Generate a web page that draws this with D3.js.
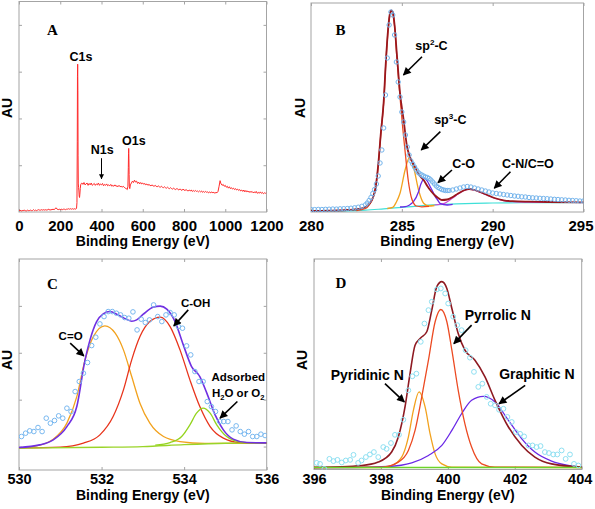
<!DOCTYPE html>
<html><head><meta charset="utf-8">
<script src="https://cdn.jsdelivr.net/npm/d3@7"></script>
<style>body{margin:0;background:#fff}svg{display:block}</style>
</head><body>
<svg id="c" width="595" height="509"></svg>
<script>
// ---------------- DATA ----------------
// Panel A: survey spectrum [binding energy eV, intensity a.u.]
const surveySpectrum = [[0,0.03],[5,0.04],[10,0.02],[15,0.03],[20,0.03],[25,0.04],[30,0.03],[35,0.02],[40,0.04],[45,0.03],[50,0.03],[55,0.04],[60,0.03],[65,0.03],[70,0.05],[75,0.03],[80,0.04],[85,0.03],[90,0.04],[95,0.05],[100,0.04],[105,0.04],[110,0.05],[115,0.04],[120,0.05],[125,0.04],[130,0.05],[135,0.04],[140,0.05],[145,0.06],[150,0.04],[155,0.05],[160,0.05],[165,0.06],[170,0.05],[175,0.07],[180,0.09],[185,0.06],[190,0.05],[195,0.06],[200,0.05],[205,0.06],[210,0.05],[215,0.06],[220,0.06],[225,0.05],[230,0.06],[235,0.06],[240,0.07],[245,0.06],[250,0.07],[255,0.06],[260,0.07],[265,0.06],[270,0.07],[275,0.06],[279,0.08],[281,0.2],[282.5,1.5],[283.5,2.9],[284.5,3.16],[285.5,2.6],[286.5,1.2],[287.5,0.6],[289,0.52],[290.5,0.45],[292,0.34],[293.5,0.31],[295,0.38],[297,0.5],[299,0.58],[302,0.61],
[305,0.62],[310,0.59],[315,0.63],[320,0.58],[325,0.60],[330,0.62],[335,0.57],[340,0.61],[345,0.58],[350,0.62],[355,0.57],[360,0.59],[365,0.61],[370,0.57],[375,0.60],[380,0.58],[385,0.62],[390,0.57],[395,0.60],[400,0.58],[405,0.61],[410,0.56],[415,0.59],[420,0.57],[425,0.60],[430,0.56],[435,0.58],[440,0.56],[445,0.59],[450,0.55],[455,0.57],[460,0.55],[465,0.58],[470,0.55],[475,0.56],[480,0.54],[485,0.57],[490,0.54],[495,0.55],[500,0.53],[505,0.55],[510,0.53],[515,0.51],[520,0.50],[525,0.48],[528,0.55],[530,0.95],[531,1.25],[532,1.36],[533,1.15],[534,0.80],[535,0.55],[537,0.50],[540,0.58],[545,0.62],[550,0.66],[555,0.63],[560,0.68],[565,0.64],[570,0.66],[575,0.61],[580,0.64],[585,0.60],[590,0.63],[595,0.60],[600,0.62],[605,0.59],[610,0.61],[615,0.58],[620,0.60],[625,0.57],[630,0.59],[635,0.57],[640,0.56],[645,0.58],[650,0.56],[655,0.55],[660,0.57],[665,0.55],[670,0.54],[675,0.56],[680,0.54],[685,0.53],[690,0.55],[695,0.53],[700,0.52],[705,0.54],[710,0.52],[715,0.51],[720,0.53],[725,0.51],[730,0.50],[735,0.52],[740,0.50],[745,0.49],[750,0.51],[755,0.49],[760,0.48],[765,0.50],[770,0.49],[775,0.47],[780,0.49],[785,0.48],[790,0.46],[795,0.49],[800,0.47],[805,0.46],[810,0.48],[815,0.46],[820,0.45],[825,0.47],[830,0.45],[835,0.47],[840,0.44],[845,0.46],[850,0.44],[855,0.46],[860,0.44],[865,0.45],[870,0.43],[875,0.45],[880,0.43],[885,0.45],[890,0.42],[895,0.44],[900,0.42],[905,0.44],[910,0.42],[915,0.43],[920,0.41],[925,0.43],[930,0.41],[935,0.43],[940,0.41],[945,0.42],[950,0.40],[955,0.42],[960,0.41],[965,0.44],[970,0.55],[975,0.67],[978,0.62],[980,0.60],[985,0.57],[990,0.59],[995,0.55],[1000,0.57],[1005,0.53],[1010,0.55],[1015,0.51],[1020,0.54],[1025,0.50],[1030,0.52],[1035,0.49],[1040,0.51],[1045,0.48],[1050,0.50],[1055,0.47],[1060,0.49],[1065,0.46],[1070,0.48],[1075,0.45],[1080,0.47],[1085,0.44],[1090,0.47],[1095,0.43],[1100,0.46],[1105,0.43],[1110,0.45],[1115,0.42],[1120,0.44],[1125,0.42],[1130,0.44],[1135,0.41],[1140,0.43],[1145,0.41],[1150,0.44],[1155,0.40],[1160,0.42],[1165,0.40],[1170,0.43],[1175,0.40],[1180,0.42],[1185,0.39],[1190,0.41],[1195,0.40],[1200,0.41]];
const surveyTicksX = [0,200,400,600,800,1000,1200];
const surveyTicksY = [1,2,3,4];
const surveyPeaks = [{label:"C1s",e:300,v:3.23},{label:"N1s",e:404,v:1.23},{label:"O1s",e:557,v:1.43}];
const surveyArrow = {e:400,v1:1.15,v2:0.71};

// Panel B: C1s high resolution [eV, counts]
const c1sData = [[280.0,125],[280.2,120],[280.4,130],[280.6,125],[280.8,135],[281.0,140],[281.2,150],[281.4,145],[281.6,160],[281.8,165],[282.0,175],[282.2,190],[282.4,210],[282.6,240],[282.8,285],[283.0,360],[283.1,450],[283.2,575],[283.3,725],[283.4,925],[283.5,1125],[283.6,1400],[283.7,1800],[283.8,2450],[283.9,3100],[284.0,4200],[284.1,5850],[284.2,7700],[284.3,9350],[284.4,10000],[284.5,9850],[284.6,8850],[284.7,7500],[284.8,6500],[284.9,5750],[285.0,5000],[285.1,4500],[285.2,3850],[285.3,3250],[285.4,2850],[285.5,2550],[285.6,2400],[285.7,2250],[285.8,2100],[285.9,1975],[286.0,1900],[286.1,1850],[286.2,1800],[286.3,1750],[286.4,1725],[286.5,1675],[286.6,1600],[286.7,1500],[286.8,1400],[286.9,1300],[287.0,1225],[287.1,1175],[287.2,1125],[287.3,1100],[287.4,1075],[287.5,1075],[287.6,1075],[287.8,1100],[288.0,1150],[288.2,1200],[288.4,1250],[288.6,1275],[288.8,1250],[289.0,1200],[289.2,1150],[289.4,1100],[289.6,1050],[289.8,1000],[290.0,950],[290.2,925],[290.4,900],[290.6,875],[290.8,850],[291.0,825],[291.2,800],[291.4,785],[291.6,760],[291.8,750],[292.0,725],[292.2,710],[292.4,700],[292.6,685],[292.8,675],[293.0,665],[293.2,650],[293.4,635],[293.6,625],[293.8,610],[294.0,600],[294.2,585],[294.4,575],[294.6,565],[294.8,550],[295.0,550]];
const c1sEnvelope = [[280.0,50],[281.0,65],[282.0,100],[282.6,150],[283.0,250],[283.2,400],[283.4,700],[283.55,1200],[283.7,2350],[283.85,4000],[284.0,5500],[284.12,7500],[284.25,9200],[284.35,9950],[284.42,10075],[284.5,10000],[284.6,9350],[284.73,7850],[284.9,5950],[285.1,4600],[285.28,3300],[285.45,2750],[285.6,2450],[285.75,2200],[286.0,1800],[286.2,1600],[286.4,1300],[286.6,1050],[286.8,850],[287.0,700],[287.2,600],[287.5,625],[287.8,750],[288.1,925],[288.4,1075],[288.7,1150],[289.0,1100],[289.3,1000],[289.7,850],[290.1,700],[290.6,585],[291.1,540],[292,515],[293,500],[295,485]];
const c1sSp2 = [[282.5,75],[283.0,175],[283.2,350],[283.4,675],[283.55,1150],[283.7,2300],[283.85,3950],[284.0,5450],[284.12,7450],[284.25,9150],[284.35,9900],[284.42,10050],[284.5,9950],[284.6,9300],[284.73,7700],[284.9,5750],[285.05,4200],[285.2,2850],[285.35,1600],[285.55,650],[285.8,300],[286.1,260],[286.5,280]];
const c1sSp3 = [[284.2,175],[284.5,230],[284.7,500],[284.9,935],[285.18,2100],[285.42,2735],[285.64,2265],[285.92,1100],[286.2,435],[286.47,300],[286.8,325]];
const c1sCO = [[284.9,250],[285.18,265],[285.4,340],[285.64,515],[285.92,1015],[286.05,1400],[286.25,1685],[286.4,1550],[286.56,1265],[286.7,1025],[286.84,765],[286.95,625],[287.1,435],[287.5,350],[287.8,380]];
const c1sCN = [[286.8,350],[287.3,420],[287.8,700],[288.1,900],[288.4,1060],[288.7,1140],[289.0,1090],[289.3,990],[289.7,840],[290.1,690],[290.6,570],[291.1,515],[292,490],[293,478]];
const c1sBackground = [[280,50],[282,60],[283,90],[284,160],[285,235],[286,310],[287,365],[288,405],[289,435],[290,450],[292,465],[295,475]];
const c1sTicksX = [280,285,290,295];
const c1sLabels = [
  {parts:[["sp",0],["2",1],["-C",0]], e:286.63, v:8100, a:[286.11,7765,285.09,6850]},
  {parts:[["sp",0],["3",1],["-C",0]], e:287.67, v:4400, a:[287.12,4015,286.07,3100]},
  {parts:[["C-O",0]], e:288.4, v:2185, a:[287.76,2100,286.99,1465]},
  {parts:[["C-N/C=O",0]], e:291.94, v:2185, a:[290.98,2015,290.09,1185]}
];

// Panel C: O1s [eV, a.u.]
const o1sData = [[530.06,0.214],[530.16,0.285],[530.26,0.335],[530.36,0.320],[530.46,0.406],[530.56,0.320],[530.66,0.605],[530.76,0.498],[530.86,0.555],[530.96,0.655],[531.06,0.605],[531.16,0.818],[531.26,0.747],[531.36,1.173],[531.46,1.387],[531.56,1.564],[531.66,1.792],[531.76,2.154],[531.86,2.332],[531.96,2.616],[532.06,2.772],[532.16,2.879],[532.26,2.879],[532.36,2.844],[532.46,2.808],[532.56,2.751],[532.66,2.737],[532.76,2.872],[532.86,2.488],[532.96,2.716],[533.06,2.645],[533.16,2.701],[533.26,3.021],[533.36,2.772],[533.46,2.666],[533.56,2.808],[533.66,2.858],[533.76,2.808],[533.86,2.559],[533.96,2.524],[534.06,2.147],[534.16,1.955],[534.26,1.600],[534.36,1.387],[534.46,1.387],[534.56,0.960],[534.66,0.853],[534.76,0.747],[534.86,0.534],[534.96,0.534],[535.06,0.534],[535.16,0.356],[535.26,0.441],[535.36,0.320],[535.46,0.264],[535.56,0.320],[535.66,0.214],[535.76,0.214],[535.86,0.264],[535.96,0.235]];
const o1sEnvelope = [[530.0,-0.02],[530.5,0.036],[530.83,0.143],[531.16,0.426],[531.4,0.853],[531.6,1.849],[531.72,2.275],[531.88,2.665],[532.04,2.829],[532.2,2.879],[532.4,2.808],[532.6,2.716],[532.73,2.674],[532.85,2.701],[533.01,2.823],[533.25,2.972],[533.42,2.994],[533.58,2.930],[533.78,2.665],[533.98,2.168],[534.18,1.706],[534.38,1.493],[534.55,1.139],[534.75,0.676],[534.95,0.356],[535.19,0.158],[535.52,0.085],[536.0,0.079]];
const o1sCdO = [[530.0,-0.03],[530.35,0.0],[530.83,0.158],[531.16,0.499],[531.4,1.066],[531.6,1.849],[531.8,2.345],[532.08,2.574],[532.33,2.418],[532.53,2.062],[532.73,1.493],[532.93,0.925],[533.17,0.499],[533.5,0.213],[533.9,0.107],[534.5,0.068],[536,0.068]];
const o1sCOH = [[530.0,-0.03],[531.0,-0.013],[531.56,0.072],[531.96,0.249],[532.28,0.640],[532.53,1.209],[532.73,1.849],[532.93,2.345],[533.17,2.665],[533.42,2.759],[533.66,2.559],[533.9,2.062],[534.14,1.422],[534.38,0.853],[534.63,0.426],[534.95,0.179],[535.35,0.085],[536,0.072]];
const o1sWater = [[533.3,0.03],[533.66,0.085],[533.94,0.213],[534.14,0.463],[534.3,0.712],[534.46,0.819],[534.63,0.712],[534.79,0.463],[535.03,0.213],[535.35,0.100],[535.7,0.079],[536,0.078]];
const o1sBackground = [[530,-0.035],[532,-0.015],[533,0.0],[534,0.04],[535,0.07],[536,0.08]];
const o1sTicksX = [530,532,534,536];
const o1sTicksY = [0,1,2,3];
const o1sLabels = [
  {lines:[[["C=O",0]]], e:531.25, v:2.275, a:[531.24,2.205,531.57,1.934]},
  {lines:[[["C-OH",0]]], e:534.28, v:2.985, a:[534.1,2.915,533.75,2.574]},
  {lines:[[["Adsorbed",0]],[["H",0],["2",-1],["O or O",0],["2",-1]]], e:535.31, v:1.407, a:[535.29,0.96,534.87,0.605]}
];

// Panel D: N1s [eV, a.u.]
const n1sData = [[396.08,0.23],[396.18,0.18],[396.31,-0.07],[396.46,0.43],[396.58,0.32],[396.70,0.38],[396.83,0.25],[396.95,0.35],[397.08,0.38],[397.18,0.63],[397.32,0.23],[397.42,0.35],[397.55,0.52],[397.67,0.65],[397.79,0.77],[397.92,0.52],[398.07,1.02],[398.17,0.93],[398.30,1.22],[398.42,1.63],[398.54,1.63],[398.67,2.38],[398.82,3.85],[398.94,4.55],[399.06,4.68],[399.19,6.27],[399.30,7.18],[399.42,7.85],[399.52,8.27],[399.67,8.88],[399.79,8.93],[399.92,8.68],[400.01,8.18],[400.16,7.52],[400.28,7.10],[400.41,6.85],[400.53,5.85],[400.66,5.48],[400.78,4.77],[400.91,4.02],[401.03,4.18],[401.16,3.52],[401.28,3.18],[401.41,3.10],[401.53,2.88],[401.66,2.93],[401.78,2.52],[401.91,2.27],[402.03,1.77],[402.16,1.68],[402.28,1.55],[402.41,1.10],[402.53,1.10],[402.65,1.02],[402.77,1.07],[402.90,0.77],[403.02,0.72],[403.15,0.65],[403.27,0.65],[403.40,0.85],[403.52,0.43],[403.65,0.65],[403.77,0.18],[403.90,0.10]];
const n1sEnvelope = [[396.0,0.0],[397.43,0.1],[397.92,0.27],[398.32,0.77],[398.52,1.52],[398.72,3.02],[398.87,4.68],[399.02,6.1],[399.2,6.48],[399.37,6.77],[399.52,7.85],[399.67,9.02],[399.82,9.27],[399.97,8.93],[400.12,7.93],[400.31,6.68],[400.51,5.85],[400.81,5.35],[401.11,4.52],[401.41,3.35],[401.81,2.02],[402.21,1.1],[402.6,0.52],[403.1,0.18],[404.0,0.02]];
const n1sPyrrolic = [[396,0],[398.02,0.02],[398.52,0.27],[398.82,0.85],[399.02,1.85],[399.22,3.52],[399.42,5.35],[399.62,7.27],[399.79,7.88],[399.97,7.27],[400.12,5.85],[400.31,3.85],[400.51,2.18],[400.71,1.02],[401.01,0.18],[401.4,0.02],[404,0]];
const n1sPyridinic = [[396,0],[398.0,0.0],[398.32,0.1],[398.62,0.52],[398.82,1.52],[398.97,2.85],[399.14,3.77],[399.32,3.02],[399.47,1.68],[399.62,0.68],[399.82,0.18],[400.12,0.02],[404,0]];
const n1sGraphitic = [[396,0],[397,0.0],[398.22,0.05],[398.92,0.23],[399.42,0.6],[399.82,1.1],[400.12,1.85],[400.41,2.68],[400.71,3.35],[401.06,3.55],[401.41,3.27],[401.81,2.35],[402.21,1.43],[402.6,0.77],[403.1,0.32],[403.6,0.1],[404,0.02]];
const n1sBackground = [[396,0],[404,0]];
const n1sTicksX = [396,398,400,402,404];
const n1sLabels = [
  {lines:[[["Pyrrolic N",0]]], e:401.49, v:7.35, a:[400.71,7.1,400.18,6.18]},
  {lines:[[["Pyridinic N",0]]], e:397.59, v:4.35, a:[398.12,4.18,398.7,3.27]},
  {lines:[[["Graphitic N",0]]], e:402.66, v:4.4, a:[402.31,4.1,401.53,3.18]}
];

// ---------------- DRAW ----------------
const svg = d3.select('#c');
const defs = svg.append('defs');
function marker(id, w, h){
  defs.append('marker').attr('id',id).attr('viewBox','0 0 10 10').attr('refX',9).attr('refY',5)
    .attr('markerWidth',w).attr('markerHeight',h).attr('markerUnits','userSpaceOnUse').attr('orient','auto')
    .append('path').attr('d','M0,0L10,5L0,10Z').attr('fill','#000');
}
marker('ah',9,8); marker('ahs',5,5);

const SANS = "'Liberation Sans', Arial, sans-serif";
const SERIF = "'Liberation Serif', 'Times New Roman', serif";
const FRAME = '#a4a4a4';

function makePanel(p){
  const x = d3.scaleLinear().domain(p.xd).range([p.l, p.r]);
  const y = d3.scaleLinear().domain(p.yd).range([p.b, p.t]);
  const g = svg.append('g');
  const cid = 'clip' + p.name;
  defs.append('clipPath').attr('id',cid).append('rect').attr('x',p.l).attr('y',p.t).attr('width',p.r-p.l).attr('height',p.b-p.t);
  const ax = g.append('g').attr('transform',`translate(0,${p.b})`)
    .call(d3.axisBottom(x).tickValues(p.xt).tickSizeInner(-3).tickSizeOuter(0).tickFormat(d3.format('d')));
  ax.selectAll('text').attr('y', p.tickY - p.b).attr('dy',0)
    .attr('dx',(d,i)=> i===p.xt.length-1 ? (p.lastDx||0) : 0)
    .style('font-family',SANS).style('font-weight','bold').style('font-size',p.tickFs+'px').attr('fill','#000');
  g.append('g').attr('transform',`translate(0,${p.t})`).call(d3.axisTop(x).tickValues(p.xt).tickSizeInner(-3).tickSizeOuter(0).tickFormat(''));
  if (p.yt) {
    g.append('g').attr('transform',`translate(${p.l},0)`).call(d3.axisLeft(y).tickValues(p.yt).tickSizeInner(-3).tickSizeOuter(0).tickFormat(''));
    g.append('g').attr('transform',`translate(${p.r},0)`).call(d3.axisRight(y).tickValues(p.yt).tickSizeInner(-3).tickSizeOuter(0).tickFormat(''));
  }
  g.selectAll('.domain').remove();
  g.selectAll('.tick line').attr('stroke',FRAME);
  g.append('rect').attr('x',p.l).attr('y',p.t).attr('width',p.r-p.l).attr('height',p.b-p.t).attr('fill','none').attr('stroke',FRAME).attr('stroke-width',1);
  g.append('text').attr('x',(p.l+p.r)/2).attr('y',p.titleY).attr('text-anchor','middle')
    .style('font-family',SANS).style('font-weight','bold').style('font-size','14px').text('Binding Energy (eV)');
  g.append('text').attr('transform',`translate(${p.auX},${p.auY}) rotate(-90)`).attr('text-anchor','middle')
    .style('font-family',SANS).style('font-weight','bold').style('font-size','14px').text('AU');
  g.append('text').attr('x',p.letX).attr('y',p.letY).attr('text-anchor','middle')
    .style('font-family',SERIF).style('font-weight','bold').style('font-size','15px').text(p.letter);
  const plot = g.append('g').attr('clip-path',`url(#${cid})`);
  return {x,y,g,plot};
}

function drawLine(P, data, color, w, curve){
  P.plot.append('path').datum(data).attr('fill','none').attr('stroke',color).attr('stroke-width',w)
    .attr('stroke-linejoin','round')
    .attr('d', d3.line().x(d=>P.x(d[0])).y(d=>P.y(d[1])).curve(curve||d3.curveMonotoneX));
}
function drawCircles(P, data, color, r){
  P.plot.selectAll(null).data(data).enter().append('circle')
    .attr('cx',d=>P.x(d[0])).attr('cy',d=>P.y(d[1])).attr('r',r)
    .attr('fill','none').attr('stroke',color).attr('stroke-width',1);
}
function drawLabel(P, lines, e, v, size, lh){
  lines.forEach((parts,i)=>{
    const t = P.g.append('text').attr('x',P.x(e)).attr('y',P.y(v)+i*lh).attr('text-anchor','middle')
      .style('font-family',SANS).style('font-weight','bold').style('font-size',size+'px');
    let shift = 0;
    parts.forEach(([s,k])=>{
      const ts = t.append('tspan').text(s);
      const target = k===1 ? -size*0.38 : (k===-1 ? size*0.28 : 0);
      if (target !== shift) { ts.attr('dy', target - shift); shift = target; }
      if (k!==0) ts.style('font-size',(size*0.65)+'px');
    });
  });
}
function drawArrow(P, a, mk, w){
  P.g.append('line').attr('x1',P.x(a[0])).attr('y1',P.y(a[1])).attr('x2',P.x(a[2])).attr('y2',P.y(a[3]))
    .attr('stroke','#000').attr('stroke-width',w).attr('marker-end',`url(#${mk})`);
}

// Panel A
const A = makePanel({name:'A',xd:[0,1200],yd:[0,4.5],l:19,r:266.5,t:1.5,b:212,xt:surveyTicksX,yt:surveyTicksY,
  tickY:231,tickFs:15,titleY:246,auX:12,auY:108,letX:52.5,letY:35,letter:'A'});
drawLine(A, surveySpectrum, '#ff2a2a', 1, d3.curveLinear);
surveyPeaks.forEach(p=>drawLabel(A,[[[p.label,0]]],p.e,p.v,12.5,0));
drawArrow(A,[surveyArrow.e,surveyArrow.v1,surveyArrow.e,surveyArrow.v2],'ahs',1);

// Panel B
const B = makePanel({name:'B',xd:[280,295],yd:[0,10450],l:311,r:583.5,t:3,b:212,xt:c1sTicksX,yt:null,lastDx:-3,
  tickY:231,tickFs:15,titleY:246,auX:305,auY:108,letX:340.5,letY:35,letter:'B'});
drawLine(B, c1sBackground, '#3fe0d8', 1.2);
drawLine(B, c1sCN, '#d048d0', 1.2);
drawLine(B, c1sSp3, '#f2a21e', 1.3);
drawLine(B, c1sCO, '#6a28e6', 1.3);
drawLine(B, c1sSp2, '#ec4a22', 1.3);
drawLine(B, c1sEnvelope, '#99171d', 1.8);
drawCircles(B, c1sData, '#74b4ec', 2.2);
c1sLabels.forEach(L=>{drawLabel(B,[L.parts],L.e,L.v,12.5,0); drawArrow(B,L.a,'ah',1.6);});

// Panel C
const C = makePanel({name:'C',xd:[530,536],yd:[-0.5,4.0],l:19,r:266.7,t:259,b:470,xt:o1sTicksX,yt:o1sTicksY,
  tickY:483.5,tickFs:14.5,titleY:500,auX:12,auY:360,letX:52.5,letY:289,letter:'C'});
drawLine(C, o1sCdO, '#f2a21e', 1.3);
drawLine(C, o1sCOH, '#e8341c', 1.3);
drawLine(C, o1sWater, '#94d41e', 1.3);
drawLine(C, o1sBackground, '#9ad428', 1.3);
drawLine(C, o1sEnvelope, '#7030e2', 1.6);
drawCircles(C, o1sData, '#78b8f0', 2.3);
o1sLabels.forEach(L=>{drawLabel(C,L.lines,L.e,L.v,11.5,16); drawArrow(C,L.a,'ah',1.6);});

// Panel D
const D = makePanel({name:'D',xd:[396,404],yd:[-0.1,10.4],l:314,r:581.7,t:259,b:469.5,xt:n1sTicksX,yt:null,lastDx:-2,
  tickY:483.5,tickFs:14.5,titleY:500,auX:307,auY:360,letX:341,letY:288,letter:'D'});
drawLine(D, n1sPyridinic, '#f2a21e', 1.3);
drawLine(D, n1sGraphitic, '#6a28e6', 1.3);
drawLine(D, n1sPyrrolic, '#ec4a22', 1.3);
drawLine(D, n1sEnvelope, '#8e1a22', 1.6);
drawLine(D, n1sBackground, '#6cd42a', 1.5);
drawCircles(D, n1sData, '#8ee0f2', 2.4);
n1sLabels.forEach(L=>{drawLabel(D,L.lines,L.e,L.v,14,0); drawArrow(D,L.a,'ah',1.6);});
</script>
</body></html>
